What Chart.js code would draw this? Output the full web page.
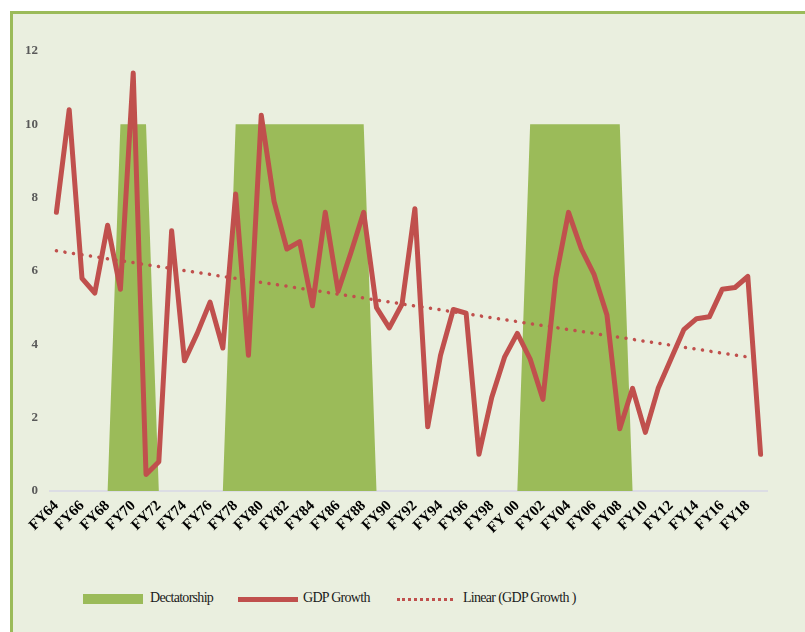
<!DOCTYPE html>
<html>
<head>
<meta charset="utf-8">
<script src="https://cdn.jsdelivr.net/npm/chart.js@4.4.1/dist/chart.umd.min.js"></script>
<style>
    html, body { margin: 0; padding: 0; background: #ffffff; }
    body { width: 805px; height: 632px; position: relative; overflow: hidden; }
    #frame {
        position: absolute; left: 10px; top: 11px; width: 795px; height: 621px;
        background: #eaefdf;
        border-top: 3px solid #9bbb59;
        border-left: 3px solid #9bbb59;
    }
    #gdpChart { position: absolute; left: 0; top: 0; }
    .legend-text {
        position: absolute; top: 590px;
        font-family: 'Liberation Serif', serif; font-size: 14px; letter-spacing: -0.7px;
        color: #1a1a1a;
    }
    .legend-mark { position: absolute; }
</style>
</head>
<body>
<div id="frame"></div>
<canvas id="gdpChart" width="805" height="560"></canvas>

<div class="legend-mark" style="left:83px; top:594px; width:60px; height:10px; background:#9bbb59;"></div>
<div class="legend-text" style="left:150px;">Dectatorship</div>
<div class="legend-mark" style="left:238px; top:597px; width:60px; height:5px; background:#c0504d;"></div>
<div class="legend-text" style="left:303px;">GDP Growth</div>
<div class="legend-mark" style="left:397px; top:598px; width:56px; height:0; border-top:3px dotted #c0504d;"></div>
<div class="legend-text" style="left:463px;">Linear (GDP Growth )</div>

<script>
// Fiscal years on the x axis
const years = [
    'FY64', 'FY65', 'FY66', 'FY67', 'FY68', 'FY69', 'FY70', 'FY71', 'FY72', 'FY73',
    'FY74', 'FY75', 'FY76', 'FY77', 'FY78', 'FY79', 'FY80', 'FY81', 'FY82', 'FY83',
    'FY84', 'FY85', 'FY86', 'FY87', 'FY88', 'FY89', 'FY90', 'FY91', 'FY92', 'FY93',
    'FY94', 'FY95', 'FY96', 'FY97', 'FY98', 'FY99', 'FY 00', 'FY01', 'FY02', 'FY03',
    'FY04', 'FY05', 'FY06', 'FY07', 'FY08', 'FY09', 'FY10', 'FY11', 'FY12', 'FY13',
    'FY14', 'FY15', 'FY16', 'FY17', 'FY18', 'FY19'
];

// GDP growth (%)
const gdpGrowth = [
    7.6, 10.4, 5.8, 5.4, 7.25, 5.5, 11.4, 0.45, 0.8, 7.1,
    3.55, 4.3, 5.15, 3.9, 8.1, 3.7, 10.25, 7.9, 6.6, 6.8,
    5.05, 7.6, 5.45, 6.5, 7.6, 5.0, 4.45, 5.1, 7.7, 1.75,
    3.7, 4.95, 4.85, 1.0, 2.55, 3.65, 4.3, 3.6, 2.5, 5.8,
    7.6, 6.6, 5.9, 4.8, 1.7, 2.8, 1.6, 2.8, 3.6, 4.4,
    4.7, 4.75, 5.5, 5.55, 5.85, 1.0
];

// Dictatorship periods (10 = in power, 0 = not)
const dictatorship = [
    0, 0, 0, 0, 0, 10, 10, 10, 0, 0,
    0, 0, 0, 0, 10, 10, 10, 10, 10, 10,
    10, 10, 10, 10, 10, 0, 0, 0, 0, 0,
    0, 0, 0, 0, 0, 0, 0, 10, 10, 10,
    10, 10, 10, 10, 10, 0, 0, 0, 0, 0,
    0, 0, 0, 0, 0, 0
];

// Linear trend end points
const trendYears = ['FY64', 'FY19'];
const trendValues = [6.55, 3.6];

const yTicks = { min: 0, max: 12, step: 2 };

const red = '#c0504d';
const green = '#9bbb59';

const ctx = document.getElementById('gdpChart').getContext('2d');

window.gdpChartInstance = new Chart(ctx, {
    type: 'line',
    data: {
        labels: years,
        datasets: [
            {
                label: 'Linear (GDP Growth )',
                data: trendYears.map((y, i) => ({ x: y, y: trendValues[i] })),
                borderColor: red,
                borderWidth: 3.5,
                borderDash: [0.1, 8.5],
                borderCapStyle: 'round',
                pointRadius: 0,
                fill: false,
                order: 0
            },
            {
                label: 'GDP Growth',
                data: gdpGrowth,
                borderColor: red,
                borderWidth: 5,
                borderJoinStyle: 'round',
                borderCapStyle: 'round',
                pointRadius: 0,
                tension: 0,
                fill: false,
                order: 1
            },
            {
                label: 'Dectatorship',
                data: dictatorship,
                borderWidth: 0,
                borderColor: 'rgba(0,0,0,0)',
                backgroundColor: green,
                pointRadius: 0,
                tension: 0,
                fill: 'origin',
                order: 2
            }
        ]
    },
    options: {
        responsive: false,
        animation: false,
        layout: { padding: { left: 0, right: 38, top: 51, bottom: 0 } },
        scales: {
            x: {
                offset: true,
                grid: { display: false, drawTicks: false },
                border: { display: true, color: '#dcdde4', width: 2 },
                ticks: {
                    autoSkip: false,
                    maxRotation: 45,
                    minRotation: 45,
                    padding: 6,
                    color: '#000000',
                    font: { family: 'Liberation Serif', size: 15, weight: 'bold' },
                    callback: function (value, index) {
                        return index % 2 === 0 ? this.getLabelForValue(value) : '';
                    }
                },
                afterFit: (scale) => { scale.height = 69; }
            },
            y: {
                min: yTicks.min,
                max: yTicks.max,
                grid: { display: false, drawTicks: false },
                border: { display: false },
                ticks: {
                    stepSize: yTicks.step,
                    padding: 12,
                    color: '#595959',
                    font: { family: 'Liberation Serif', size: 13, weight: 'bold' }
                },
                afterFit: (scale) => { scale.width = 50; }
            }
        },
        plugins: {
            legend: { display: false },
            tooltip: { enabled: false }
        }
    }
});
</script>
</body>
</html>
